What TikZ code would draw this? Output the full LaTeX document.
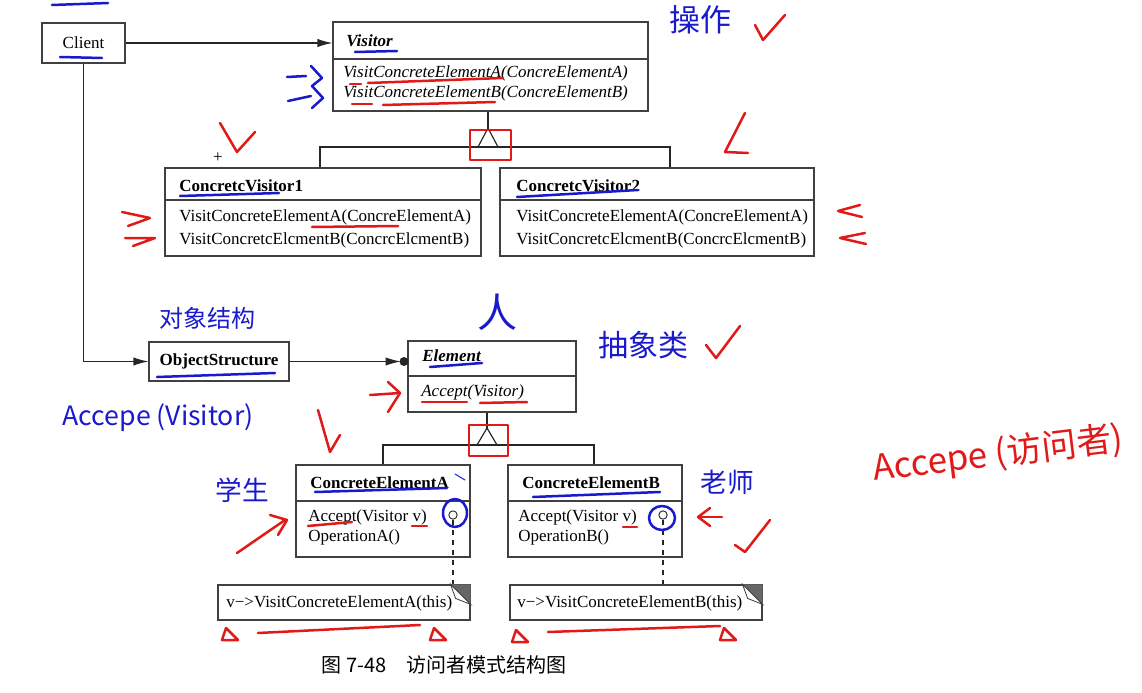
\documentclass[tikz,border=0pt]{standalone}
\usepackage{fontspec}
\setmainfont{Liberation Serif}
\newfontfamily\cjk{Noto Sans CJK SC}
\usetikzlibrary{arrows.meta,fit,calc}
\definecolor{inkblue}{RGB}{25,25,205}
\definecolor{inkred}{RGB}{225,25,25}
\tikzset{
  cls/.style={draw=black!75, line width=0.7pt, inner sep=0pt},
  conn/.style={draw=black!85, line width=0.7pt},
  arr/.style={-{Latex[length=9pt,width=5pt]}},
  txt/.style={anchor=west, inner sep=0pt, font=\fontsize{10.2}{12}\selectfont},
  ink/.style={line width=1.5pt, line cap=round, line join=round},
  bink/.style={ink, draw=inkblue},
  rink/.style={ink, draw=inkred},
  hand/.style={inner sep=0pt, text=inkblue},
}
\begin{document}
\begin{tikzpicture}[x=0.6pt,y=-0.6pt]
    \useasboundingbox (0,0) rectangle (1142,693);
    % Client and Visitor
    \node[cls, fit={(42,23) (125,63)}] (client) {};
    \node[txt, anchor=center] (clientT) at (client) {Client};
    \node[cls, fit={(333,22) (648,111)}] (visitor) {};
    \draw[cls] (visitor.west |- 0,59) -- (visitor.east |- 0,59);
    \node[txt] (visitorT) at (346,41) {\textbf{\textit{Visitor}}};
    \node[txt] (visitorM1) at (343,73) {\textit{VisitConcreteElementA(ConcreElementA)}};
    \node[txt] (visitorM2) at (343,93) {\textit{VisitConcreteElementB(ConcreElementB)}};
    \draw[conn, arr] (client.east) -- (client.east -| visitor.west);
    % concrete visitors
    \node[cls, fit={(165,168) (481,256)}] (cv1) {};
    \draw[cls] (cv1.west |- 0,200) -- (cv1.east |- 0,200);
    \node[txt] (cv1T) at (179,186) {\textbf{ConcretcVisitor1}};
    \node[txt] (cv1M1) at (179,217) {VisitConcreteElementA(ConcreElementA)};
    \node[txt] (cv1M2) at (179,240) {VisitConcretcElcmentB(ConcrcElcmentB)};
    \node[cls, fit={(500,168) (814,256)}] (cv2) {};
    \draw[cls] (cv2.west |- 0,200) -- (cv2.east |- 0,200);
    \node[txt] (cv2T) at (516,186) {\textbf{ConcretcVisitor2}};
    \node[txt] (cv2M1) at (516,217) {VisitConcreteElementA(ConcreElementA)};
    \node[txt] (cv2M2) at (516,240) {VisitConcretcElcmentB(ConcrcElcmentB)};
    \node[txt, anchor=center] (plus) at (218,158) {+};
    \coordinate (g1) at (488,128);
    \draw[conn] (visitor.south -| g1) -- (g1);
    \draw[conn] (478,147) -- (g1) -- (498,147);
    \draw[conn] (cv1.north -| 320,0) -- (320,147) -- (670,147) -- (cv2.north -| 670,0);
    % object structure and element
    \node[cls, fit={(149,342) (289,381)}] (objs) {};
    \node[txt, anchor=center] (objsT) at (objs) {\textbf{ObjectStructure}};
    \node[cls, fit={(408,341) (576,412)}] (elem) {};
    \draw[cls] (elem.west |- 0,376) -- (elem.east |- 0,376);
    \node[txt] (elemT) at (422,356) {\textbf{\textit{Element}}};
    \node[txt] (elemM) at (421,392) {\textit{Accept(Visitor)}};
    \draw[conn, arr] (client.south) |- (objs.west);
    \coordinate (dot) at (404,361.5);
    \draw[conn, arr, shorten >=2pt] (objs.east) -- (dot);
    \fill[black!85] (dot) circle (4.5);
    % concrete elements
    \node[cls, fit={(296,465) (470,557)}] (ceA) {};
    \draw[cls] (ceA.west |- 0,501) -- (ceA.east |- 0,501);
    \node[txt] (ceAT) at (310,483) {\textbf{ConcreteElementA}};
    \node[txt] (ceAM1) at (308,517) {Accept(Visitor v)};
    \node[txt] (ceAM2) at (308,537) {OperationA()};
    \node[cls, fit={(508,465) (682,557)}] (ceB) {};
    \draw[cls] (ceB.west |- 0,501) -- (ceB.east |- 0,501);
    \node[txt] (ceBT) at (522,483) {\textbf{ConcreteElementB}};
    \node[txt] (ceBM1) at (518,517) {Accept(Visitor v)};
    \node[txt] (ceBM2) at (518,537) {OperationB()};
    \coordinate (g2) at (487,428);
    \draw[conn] (elem.south -| g2) -- (g2);
    \draw[conn] (477,445) -- (g2) -- (497,445);
    \draw[conn] (ceA.north -| 383,0) -- (383,445) -- (594,445) -- (ceB.north -| 594,0);
    % notes
    \node[draw=black!80, circle, inner sep=0pt, minimum size=5pt, line width=0.6pt] (ocA) at (453,515) {};
    \node[draw=black!80, circle, inner sep=0pt, minimum size=5pt, line width=0.6pt] (ocB) at (663,515) {};
    \node[cls, fit={(218,585) (470,620)}] (noteA) {};
    \node[txt] (noteAT) at (226,603) {v−>VisitConcreteElementA(this)};
    \node[cls, fit={(510,585) (762,620)}] (noteB) {};
    \node[txt] (noteBT) at (517,603) {v−>VisitConcreteElementB(this)};
    \draw[conn, dashed] (ocA.south) -- (ocA.south |- noteA.north);
    \draw[conn, dashed] (ocB.south) -- (ocB.south |- noteB.north);
    \foreach \n in {noteA,noteB} {
        \fill[black!60] ($(\n.north east)+(-20,0)$) -- (\n.north east) -- ($(\n.north east)+(0,20)$) -- cycle;
        \filldraw[fill=white, draw=black!75, line width=0.5pt] ($(\n.north east)+(-20,0)$) -- ($(\n.north east)+(-15,14)$) -- ($(\n.north east)+(0,20)$) -- cycle;
    }
    \node[font=\cjk\fontsize{12}{14}\selectfont] (caption) at (444,665) {图 7-48\quad 访问者模式结构图};
    % blue ink
    \draw[bink] (52,5) -- (108,3);
    \draw[bink] (60,57) -- (102,58);
    \draw[bink] (355,52) -- (397,51);
    \draw[bink] (287,77) -- (306,76);
    \draw[bink] (288,101) -- (311,96);
    \draw[bink] (311,66) -- (322,78) -- (312,86) -- (323,98) -- (312,108);
    \draw[bink] (180,196) -- (279,193);
    \draw[bink] (517,197) -- (638,190);
    \draw[bink] (157,377) -- (275,373);
    \draw[bink] (430,367) -- (482,363);
    \draw[bink] (315,492) -- (447,488);
    \draw[bink, line width=0.6pt] (455,474) -- (465,480);
    \draw[bink] (533,497) -- (660,492);
    \draw[bink] (455,513) ellipse (12 and 14);
    \draw[bink] (662,518) ellipse (13 and 12);
    \node[hand, font=\cjk\fontsize{18.6}{20}\selectfont] (hOp) at (700,20) {操作};
    \node[hand, font=\cjk\fontsize{14.4}{16}\selectfont] (hObj) at (207,318) {对象结构};
    \node[hand, font=\cjk\fontsize{24}{26}\selectfont] (hRen) at (497,312) {人};
    \node[hand, font=\cjk\fontsize{18}{20}\selectfont] (hAbs) at (643,345) {抽象类};
    \node[hand, font=\cjk\fontsize{16}{18}\selectfont] (hStu) at (242,490) {学生};
    \node[hand, font=\cjk\fontsize{16}{18}\selectfont] (hTea) at (727,482) {老师};
    \node[hand, font=\cjk\fontsize{16}{18}\selectfont] (hAccL) at (158,418) {Accepe (Visitor)};
    \node[hand, text=inkred, rotate=7, font=\cjk\fontsize{21}{23}\selectfont] (hAccR) at (998,455) {Accepe (访问者)};
    % red ink
    \draw[rink] (755,25) -- (763,40) -- (785,15);
    \draw[rink] (220,123) -- (237,152) -- (255,132);
    \draw[rink] (745,113) -- (725,152) -- (748,153);
    \draw[rink] (706,345) -- (716,358) -- (740,326);
    \draw[rink] (735,545) -- (745,552) -- (770,520);
    \draw[rink] (470,130) rectangle (511,160);
    \draw[rink] (469,425) rectangle (508,456);
    \draw[rink] (350,84) -- (361,84);
    \draw[rink] (368,83) -- (503,78);
    \draw[rink] (352,104) -- (372,104);
    \draw[rink] (383,105) -- (495,102);
    \draw[rink] (312,227) -- (398,226);
    \draw[rink] (122,212) -- (150,218) -- (128,226);
    \draw[rink] (125,238) -- (155,238) -- (133,246);
    \draw[rink] (860,205) -- (838,211) -- (862,217);
    \draw[rink] (865,233) -- (840,238) -- (866,244);
    \draw[rink] (370,395) -- (400,393);
    \draw[rink] (388,382) -- (400,393) -- (388,412);
    \draw[rink] (422,402) -- (467,402);
    \draw[rink] (480,403) -- (527,402);
    \draw[rink] (318,410) -- (330,452) -- (340,435);
    \draw[rink] (308,526) -- (352,522);
    \draw[rink] (412,526) -- (427,526);
    \draw[rink] (623,527) -- (637,527);
    \draw[rink] (237,553) -- (285,520);
    \draw[rink] (270,515) -- (287,520) -- (278,535);
    \draw[rink] (698,517) -- (722,517);
    \draw[rink] (710,508) -- (698,517) -- (710,526);
    \draw[rink] (258,633) -- (420,625);
    \draw[rink] (548,632) -- (720,626);
    \foreach \x/\y in {222/640, 430/640, 512/642, 720/640} {
        \draw[rink] (\x,\y) -- (\x+4,\y-12) -- (\x+16,\y) -- cycle;
    }
\end{tikzpicture}
\end{document}
